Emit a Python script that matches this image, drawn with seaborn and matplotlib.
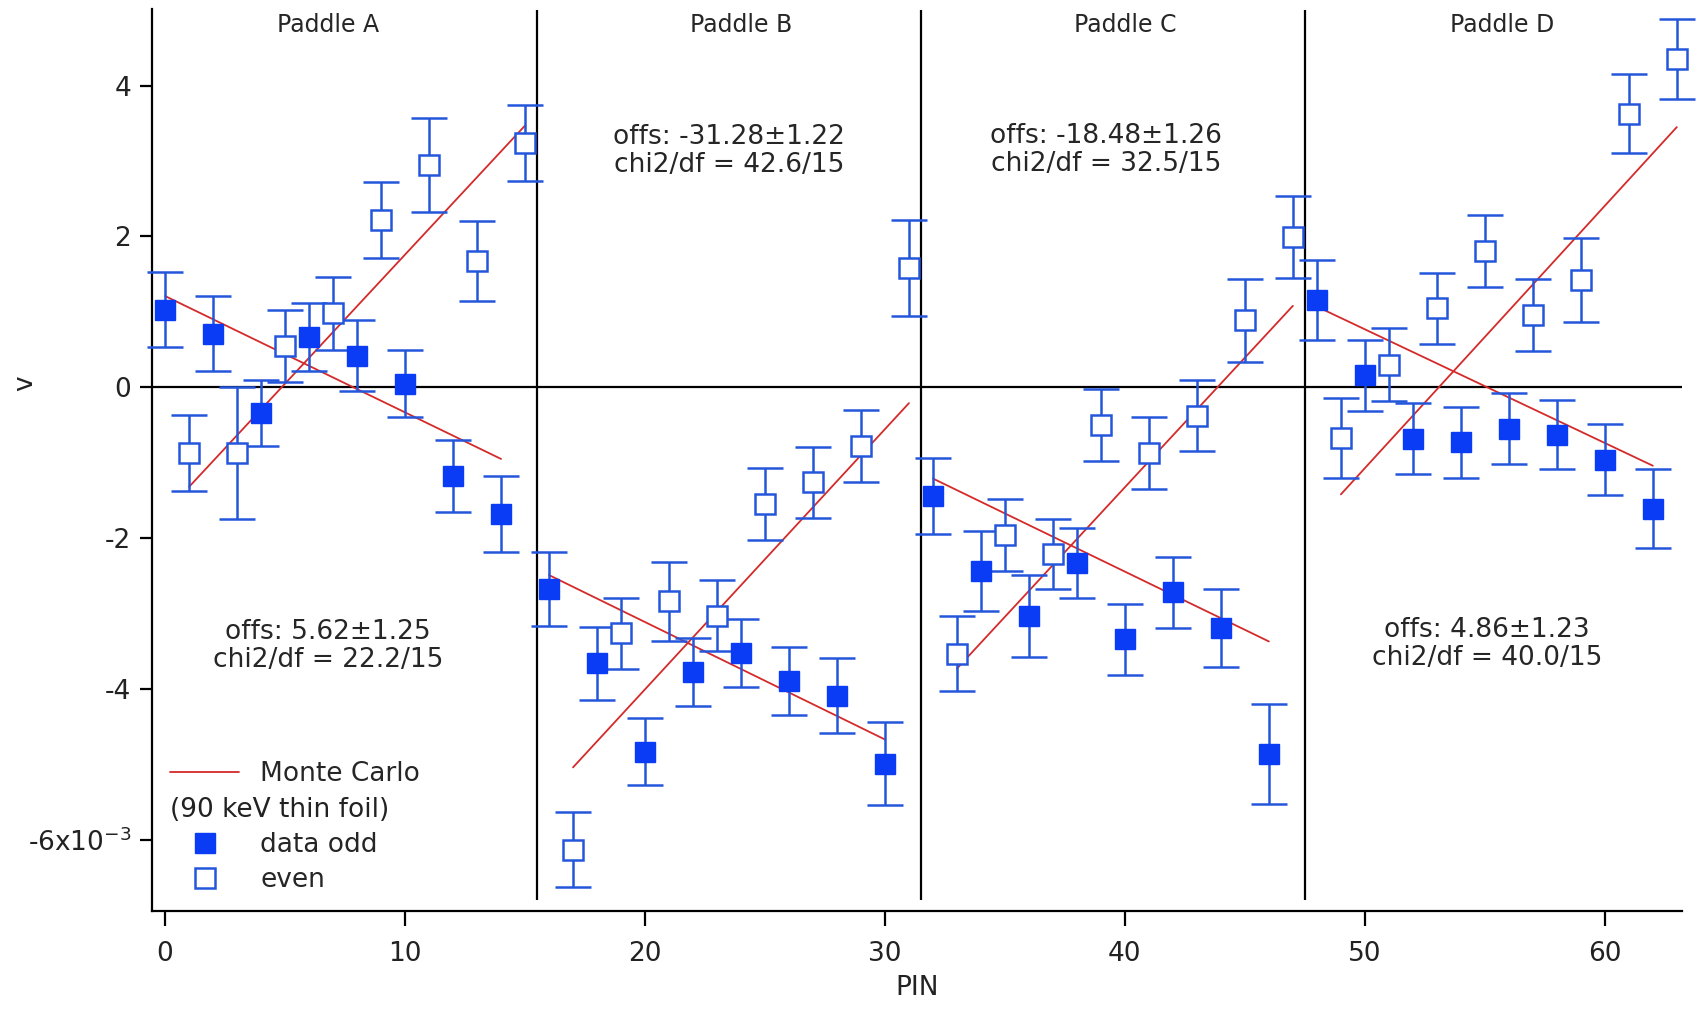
import numpy as np
import pandas as pd
import matplotlib
matplotlib.use("Agg")
import matplotlib.pyplot as plt
from matplotlib.lines import Line2D
import seaborn as sns

# values in units of 1e-3
odd_pins = [0, 2, 4, 6, 8, 10, 12, 14,
            16, 18, 20, 22, 24, 26, 28, 30,
            32, 34, 36, 38, 40, 42, 44, 46,
            48, 50, 52, 54, 56, 58, 60, 62]
odd_v = [1.03, 0.71, -0.34, 0.67, 0.42, 0.05, -1.18, -1.68,
         -2.68, -3.66, -4.83, -3.77, -3.52, -3.90, -4.09, -4.99,
         -1.44, -2.44, -3.03, -2.33, -3.34, -2.72, -3.19, -4.86,
         1.16, 0.16, -0.68, -0.73, -0.55, -0.63, -0.96, -1.61]
odd_err = [0.50, 0.50, 0.44, 0.45, 0.47, 0.44, 0.48, 0.51,
           0.49, 0.48, 0.45, 0.45, 0.45, 0.45, 0.50, 0.55,
           0.50, 0.53, 0.54, 0.47, 0.47, 0.47, 0.52, 0.66,
           0.53, 0.47, 0.47, 0.47, 0.47, 0.46, 0.47, 0.52]

even_pins = [p + 1 for p in odd_pins]
even_v = [-0.87, -0.87, 0.55, 0.98, 2.22, 2.95, 1.67, 3.24,
          -6.13, -3.26, -2.84, -3.03, -1.55, -1.26, -0.78, 1.58,
          -3.53, -1.96, -2.21, -0.50, -0.87, -0.38, 0.89, 1.99,
          -0.67, 0.30, 1.05, 1.81, 0.96, 1.42, 3.63, 4.35]
even_err = [0.50, 0.87, 0.48, 0.48, 0.50, 0.62, 0.53, 0.50,
            0.50, 0.47, 0.52, 0.47, 0.48, 0.47, 0.48, 0.64,
            0.50, 0.48, 0.47, 0.48, 0.48, 0.47, 0.55, 0.54,
            0.53, 0.48, 0.47, 0.48, 0.48, 0.56, 0.53, 0.53]

# Monte Carlo lines: start / end of each segment per paddle
mc_line = ["A odd", "A odd", "A even", "A even",
           "B odd", "B odd", "B even", "B even",
           "C odd", "C odd", "C even", "C even",
           "D odd", "D odd", "D even", "D even"]
mc_pin = [0, 14, 1, 15, 16, 30, 17, 31, 32, 46, 33, 47, 48, 62, 49, 63]
mc_v = [1.21, -0.95, -1.32, 3.47,
        -2.49, -4.67, -5.04, -0.21,
        -1.21, -3.37, -3.73, 1.08,
        1.07, -1.04, -1.42, 3.45]

paddles = ["Paddle A", "Paddle B", "Paddle C", "Paddle D"]
paddle_centers = [6.8, 24.0, 40.0, 55.7]
boundaries = [15.5, 31.5, 47.5]
fit_text = ["offs: 5.62\u00b11.25\nchi2/df = 22.2/15",
            "offs: -31.28\u00b11.22\nchi2/df = 42.6/15",
            "offs: -18.48\u00b11.26\nchi2/df = 32.5/15",
            "offs: 4.86\u00b11.23\nchi2/df = 40.0/15"]
fit_x = [6.8, 23.5, 39.2, 55.1]
fit_y = [-3.43, 3.13, 3.15, -3.41]

blue_fill = "#0a3cf5"
blue_line = "#2456dc"
red = "#d42a2a"

sns.set_theme(style="ticks")
plt.rcParams["font.family"] = ["DejaVu Sans"]
plt.rcParams["font.size"] = 17

fig = plt.figure(figsize=(17.01, 10.21), dpi=100)
ax = fig.add_axes([0.0893, 0.1073, 0.8993, 0.8842])

mc_df = pd.DataFrame({"line": mc_line, "pin": mc_pin, "v": mc_v})
sns.lineplot(data=mc_df, x="pin", y="v", units="line", estimator=None,
             color=red, linewidth=1.3, ax=ax, zorder=3)

for art in [
    ax.errorbar(odd_pins, odd_v, yerr=odd_err, fmt="s", ms=15, mfc=blue_fill,
                mec=blue_fill, ecolor=blue_line, elinewidth=1.8, capsize=13,
                capthick=1.8, zorder=4),
    ax.errorbar(even_pins, even_v, yerr=even_err, fmt="s", ms=15, mfc="white",
                mec=blue_line, mew=1.8, ecolor=blue_line, elinewidth=1.8,
                capsize=13, capthick=1.8, zorder=4),
]:
    for child in art.get_children():
        child.set_clip_on(False)

ax.axhline(0, color="black", lw=1.6, zorder=2)
ax.vlines(boundaries, -6.8, 5.0, color="black", lw=1.6, zorder=2)

for name, xc in zip(paddles, paddle_centers):
    ax.text(xc, 4.80, name, ha="center", va="center", fontsize=17)
for t, xc, yc in zip(fit_text, fit_x, fit_y):
    ax.text(xc, yc, t, ha="center", va="center", fontsize=19, linespacing=1.1)

ax.set_xlim(-0.55, 63.2)
ax.set_ylim(-6.95, 5.02)
ax.set_xticks([0, 10, 20, 30, 40, 50, 60])
ax.set_yticks([-6, -4, -2, 0, 2, 4])
ax.set_yticklabels(["-6x10$^{-3}$", "-4", "-2", "0", "2", "4"])
ax.tick_params(axis="both", direction="out", labelsize=19, width=1.6,
               color="black", labelcolor="#222222")
ax.tick_params(axis="y", length=9, pad=6)
ax.tick_params(axis="x", length=11, pad=10)
for s in ["top", "right"]:
    ax.spines[s].set_visible(False)
for s in ["left", "bottom"]:
    ax.spines[s].set_linewidth(1.6)
    ax.spines[s].set_color("black")

ax.set_xlabel("PIN", fontsize=19, labelpad=6, color="#222222")
ax.set_ylabel("v", fontsize=19, color="#222222")
ax.yaxis.set_label_coords(-0.074, 0.585)

handles = [Line2D([], [], color=red, lw=1.3),
           Line2D([], [], color="none"),
           Line2D([], [], ls="none", marker="s", ms=15, mfc=blue_fill, mec=blue_fill),
           Line2D([], [], ls="none", marker="s", ms=15, mfc="white", mec=blue_line, mew=1.8)]
labels = ["Monte Carlo", "(90 keV thin foil)", "data odd", "even"]
leg = ax.legend(handles, labels, loc="lower left", bbox_to_anchor=(0.0, 0.0),
                frameon=False, fontsize=19, handlelength=2.6, handletextpad=0.8,
                labelspacing=0.35, borderaxespad=0.3)

# second legend line starts under the line sample, as in the original
fig.canvas.draw()
renderer = fig.canvas.get_renderer()
sub = leg.get_texts()[1]
tb = sub.get_window_extent(renderer)
hb = leg.legend_handles[0].get_window_extent(renderer)
sub.set_alpha(0)
fig.text(hb.x0 / fig.dpi / fig.get_figwidth(),
         (tb.y0 + tb.y1) / 2 / fig.dpi / fig.get_figheight(),
         sub.get_text(), ha="left", va="center", fontsize=19, color="#222222")

fig.savefig("out.png", dpi=100)
